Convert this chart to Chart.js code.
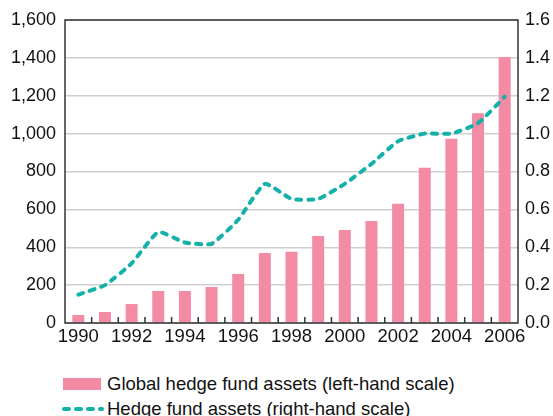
<!DOCTYPE html>
<html lang="en">
<head>
    <meta charset="UTF-8">
    <title>Hedge fund assets</title>
    <script src="https://cdn.jsdelivr.net/npm/chart.js"></script>
    <style>
        body {
            margin: 0;
            padding: 0;
            background: #fff;
            font-family: "Liberation Sans", Arial, Helvetica, sans-serif;
            overflow: hidden;
        }

        .chart-wrap {
            position: relative;
            width: 553px;
            height: 352px;
        }

        .legend {
            position: absolute;
            left: 61px;
            top: 371px;
            font-size: 18.5px;
            color: #111;
        }

            .legend .row {
                display: flex;
                align-items: center;
                height: 25px;
            }

            .legend .swatch {
                width: 46px;
                height: 12px;
                flex: none;
            }
    </style>
</head>
<body>

    <div class="chart-wrap">
        <canvas id="hedgeChart"></canvas>
    </div>

    <div class="legend">
        <div class="row">
            <svg class="swatch" viewBox="0 0 46 12"><rect x="2" y="0" width="38" height="12" fill="#f28ba3"/></svg>
            <span>Global hedge fund assets (left-hand scale)</span>
        </div>
        <div class="row">
            <svg class="swatch" viewBox="0 0 46 12"><line x1="3" y1="6" x2="41" y2="6" stroke="#14b1a9" stroke-width="4" stroke-dasharray="5 7" stroke-linecap="round"/></svg>
            <span>Hedge fund assets (right-hand scale)</span>
        </div>
    </div>

    <script>
        // Years on the x axis
        const years = ['1990', '1991', '1992', '1993', '1994', '1995', '1996', '1997', '1998',
            '1999', '2000', '2001', '2002', '2003', '2004', '2005', '2006'];

        // Global hedge fund assets, left-hand scale
        const globalAssets = [42, 58, 100, 169, 169, 190, 259, 369, 376, 459, 491, 538, 630, 820, 973, 1108, 1404];

        // Hedge fund assets, right-hand scale
        const hedgeAssets = [0.15, 0.20, 0.315, 0.48, 0.425, 0.418, 0.545, 0.735, 0.655, 0.655, 0.735, 0.84, 0.96, 1.0, 1.0, 1.055, 1.195];

        const leftTicks = [0, 200, 400, 600, 800, 1000, 1200, 1400, 1600];
        const rightTicks = [0, 0.2, 0.4, 0.6, 0.8, 1.0, 1.2, 1.4, 1.6];

        const fontFamily = '"Liberation Sans", Arial, Helvetica, sans-serif';

        // frame around the plot + small inward ticks between years
        const framePlugin = {
            id: 'frame',
            afterDatasetsDraw(chart) {
                const { ctx, chartArea: a, scales } = chart;
                const x = scales.x;
                ctx.save();
                ctx.strokeStyle = '#333';
                ctx.lineWidth = 1.5;
                ctx.beginPath();
                for (let i = 0; i < years.length - 1; i++) {
                    const px = (x.getPixelForValue(i) + x.getPixelForValue(i + 1)) / 2;
                    ctx.moveTo(px, a.bottom);
                    ctx.lineTo(px, a.bottom - 6);
                }
                ctx.stroke();
                ctx.strokeRect(a.left, a.top, a.right - a.left, a.bottom - a.top);
                ctx.restore();
            }
        };

        new Chart(document.getElementById('hedgeChart').getContext('2d'), {
            data: {
                labels: years,
                datasets: [
                    {
                        type: 'line',
                        label: 'Hedge fund assets (right-hand scale)',
                        data: hedgeAssets,
                        yAxisID: 'y1',
                        borderColor: '#14b1a9',
                        borderWidth: 4,
                        borderDash: [5, 7],
                        borderCapStyle: 'round',
                        tension: 0.15,
                        pointRadius: 0,
                        fill: false,
                        order: 0
                    },
                    {
                        type: 'bar',
                        label: 'Global hedge fund assets (left-hand scale)',
                        data: globalAssets,
                        yAxisID: 'y',
                        backgroundColor: '#f28ba3',
                        barPercentage: 0.45,
                        categoryPercentage: 1.0,
                        order: 1
                    }
                ]
            },
            options: {
                responsive: true,
                maintainAspectRatio: false,
                animation: false,
                layout: { padding: { top: 20, left: 0, right: 0, bottom: 0 } },
                plugins: {
                    legend: { display: false },
                    tooltip: { enabled: false }
                },
                scales: {
                    x: {
                        offset: true,
                        grid: { display: false, drawTicks: false },
                        border: { display: false },
                        ticks: {
                            autoSkip: false,
                            maxRotation: 0,
                            padding: 3,
                            color: '#111',
                            font: { family: fontFamily, size: 18.5 },
                            callback: (v, i) => (i % 2 === 0 ? years[i] : '')
                        },
                        afterFit: s => { s.height = 29; }
                    },
                    y: {
                        position: 'left',
                        min: 0,
                        max: 1600,
                        afterBuildTicks: s => { s.ticks = leftTicks.map(v => ({ value: v })); },
                        grid: { color: '#cfcfcf', lineWidth: 1.5, drawTicks: false },
                        border: { display: false },
                        ticks: {
                            padding: 9,
                            color: '#111',
                            font: { family: fontFamily, size: 18 },
                            callback: v => v.toLocaleString('en-US')
                        },
                        afterFit: s => { s.width = 65; }
                    },
                    y1: {
                        position: 'right',
                        min: 0,
                        max: 1.6,
                        afterBuildTicks: s => { s.ticks = rightTicks.map(v => ({ value: v })); },
                        grid: { drawOnChartArea: false, drawTicks: false },
                        border: { display: false },
                        ticks: {
                            padding: 7,
                            color: '#111',
                            font: { family: fontFamily, size: 18 },
                            callback: v => Number(v).toFixed(1)
                        },
                        afterFit: s => { s.width = 35; }
                    }
                }
            },
            plugins: [framePlugin]
        });
    </script>

</body>
</html>
